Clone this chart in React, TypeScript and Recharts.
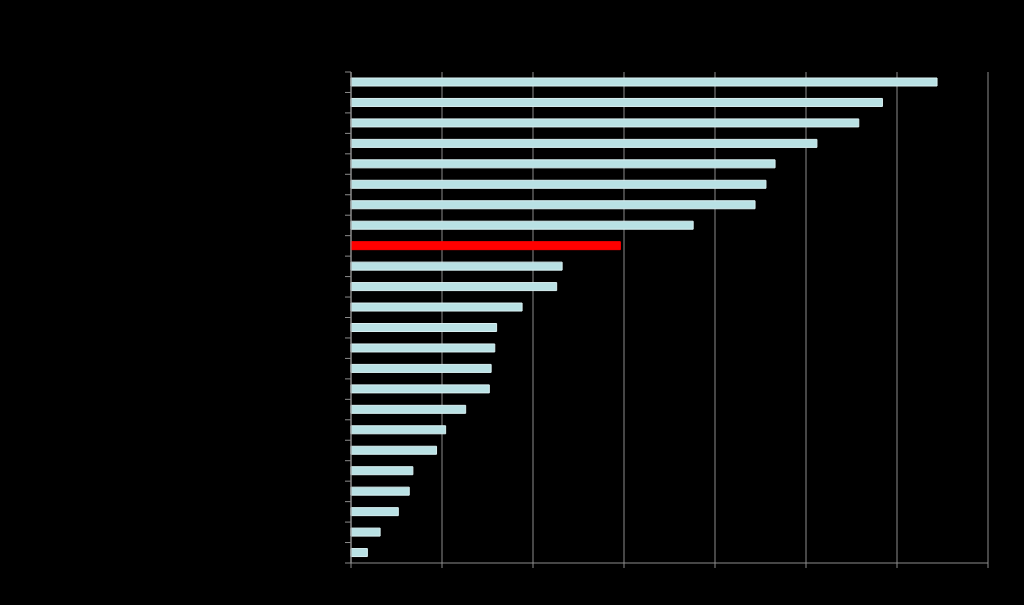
import { BarChart, Bar, XAxis, YAxis, CartesianGrid, Cell } from "recharts";

const categories = [
  "c1", "c2", "c3", "c4", "c5", "c6", "c7", "c8", "c9", "c10", "c11", "c12",
  "c13", "c14", "c15", "c16", "c17", "c18", "c19", "c20", "c21", "c22", "c23", "c24",
];
const values = [
  32.2, 29.2, 27.9, 25.6, 23.3, 22.8, 22.2, 18.8, 14.8, 11.6, 11.3, 9.4,
  8.0, 7.9, 7.7, 7.6, 6.3, 5.2, 4.7, 3.4, 3.2, 2.6, 1.6, 0.9,
];
const highlight = "c9";
const xTicks = [0, 5, 10, 15, 20, 25, 30, 35];

const data = categories.map((name, i) => ({ name, value: values[i] }));

const AXIS = "#8c8c8c";

// tick marks sit on the boundaries between rows, not at row centres
const RowTick = (props: any) => {
  const { x, y, payload, index, visibleTicksCount } = props;
  const half = payload?.offset ?? 0;
  const last = index === visibleTicksCount - 1;
  return (
    <g>
      <line x1={x - 6} x2={x} y1={y - half} y2={y - half} stroke={AXIS} />
      {last && (
        <line x1={x - 6} x2={x} y1={y + half} y2={y + half} stroke={AXIS} />
      )}
    </g>
  );
};

const App = () => {
  return (
    <div
      style={{
        position: "absolute",
        left: 0,
        top: 0,
        width: 1024,
        height: 605,
        background: "#000",
      }}
    >
      <BarChart
        width={1024}
        height={605}
        data={data}
        layout="vertical"
        margin={{ top: 72, right: 36, bottom: 0, left: 0 }}
      >
        <CartesianGrid horizontal={false} stroke={AXIS} strokeWidth={1} />
        <XAxis
          type="number"
          domain={[0, 35]}
          ticks={xTicks}
          stroke={AXIS}
          tickSize={5}
          tickFormatter={() => ""}
          height={42}
        />
        <YAxis
          type="category"
          dataKey="name"
          stroke={AXIS}
          tickLine={false}
          tickSize={0}
          tickMargin={0}
          tick={<RowTick />}
          interval={0}
          width={351}
        />
        <Bar
          dataKey="value"
          barSize={8}
          fill="#b9e1e4"
          stroke="#d9f0f2"
          strokeWidth={1}
          isAnimationActive={false}
        >
          {data.map((d) => (
            <Cell
              key={d.name}
              fill={d.name === highlight ? "#ff0000" : "#b9e1e4"}
              stroke={d.name === highlight ? "#ff0000" : "#d9f0f2"}
            />
          ))}
        </Bar>
      </BarChart>
    </div>
  );
};

export default App;
